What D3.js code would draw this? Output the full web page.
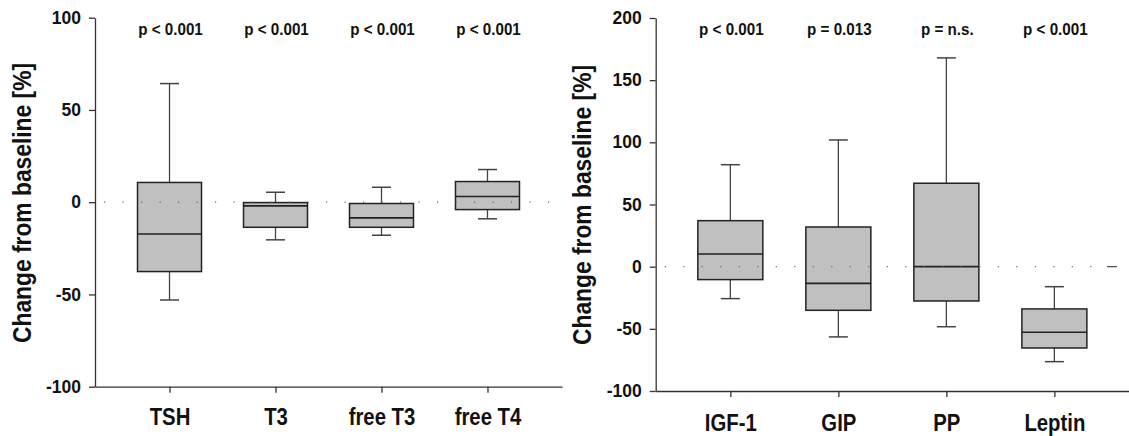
<!DOCTYPE html>
<html>
<head>
<meta charset="utf-8">
<script src="https://cdn.jsdelivr.net/npm/d3@7"></script>
<style>
  body { margin: 0; background: #fff; }
  svg { display: block; }
  text { font-family: "Liberation Sans", Arial, sans-serif; font-weight: bold; fill: #111; }
  .axis path, .axis line { stroke: #333; stroke-width: 1.3; }
</style>
</head>
<body>
<script>
// left panel: thyroid hormones
var leftCats = ['TSH', 'T3', 'free T3', 'free T4']
var leftP = ['p < 0.001', 'p < 0.001', 'p < 0.001', 'p < 0.001']
var leftLow = [-53, -20.4, -17.9, -9]
var leftQ1 = [-37.6, -13.6, -13.6, -4]
var leftMed = [-17.2, -2, -8.5, 3.1]
var leftQ3 = [10.7, -0.2, -0.7, 11.2]
var leftHigh = [64.3, 5.4, 8.1, 17.7]
var leftTicks = [-100, -50, 0, 50, 100]

// right panel: other hormones
var rightCats = ['IGF-1', 'GIP', 'PP', 'Leptin']
var rightP = ['p < 0.001', 'p = 0.013', 'p = n.s.', 'p < 0.001']
var rightLow = [-25.7, -56.5, -48.3, -76.4]
var rightQ1 = [-10.4, -35.1, -27.6, -65.4]
var rightMed = [10.2, -13.4, 0, -52.8]
var rightQ3 = [37, 31.9, 67.1, -34]
var rightHigh = [82, 101.9, 167.9, -16.1]
var rightTicks = [-100, -50, 0, 50, 100, 150, 200]

var svg = d3.select('body').append('svg').attr('width', 1129).attr('height', 436)

function panel(opt) {
  var y = d3.scaleLinear().domain(opt.yDomain).range([opt.bottom, opt.top])
  var x = d3.scalePoint().domain(opt.cats).range([opt.left, opt.right]).padding(opt.pad)

  var g = svg.append('g')

  // axes
  g.append('g')
    .attr('class', 'axis y')
    .attr('transform', `translate(${opt.left},0)`)
    .call(d3.axisLeft(y).tickValues(opt.ticks).tickFormat(d => String(d)).tickSize(6).tickSizeOuter(0).tickPadding(8))
    .call(a => a.selectAll('text').style('font-size', '17.5px').attr('fill', '#111'))

  g.append('g')
    .attr('class', 'axis x')
    .attr('transform', `translate(0,${opt.bottom})`)
    .call(d3.axisBottom(x).tickSize(6).tickSizeOuter(0))
    .call(a => a.selectAll('text')
      .style('font-size', '24.5px')
      .attr('y', opt.labelY).attr('dy', 0)
      .attr('transform', 'scale(0.83,1)')
      .attr('fill', '#111'))

  g.append('text')
    .attr('transform', `translate(${opt.titleX},${opt.titleY}) rotate(-90)`)
    .attr('text-anchor', 'middle')
    .style('font-size', '25px')
    .attr('textLength', 280)
    .attr('lengthAdjust', 'spacingAndGlyphs')
    .attr('fill', '#222')
    .text('Change from baseline [%]')

  var boxW = opt.boxW, capW = 19
  var boxes = g.append('g').selectAll('g').data(opt.cats).enter().append('g')

  // whiskers
  boxes.append('line')
    .attr('x1', d => x(d)).attr('x2', d => x(d))
    .attr('y1', (d, i) => y(opt.high[i])).attr('y2', (d, i) => y(opt.low[i]))
    .attr('stroke', '#444').attr('stroke-width', 1.3)
  boxes.append('line')
    .attr('x1', d => x(d) - capW / 2).attr('x2', d => x(d) + capW / 2)
    .attr('y1', (d, i) => y(opt.high[i])).attr('y2', (d, i) => y(opt.high[i]))
    .attr('stroke', '#444').attr('stroke-width', 1.5)
  boxes.append('line')
    .attr('x1', d => x(d) - capW / 2).attr('x2', d => x(d) + capW / 2)
    .attr('y1', (d, i) => y(opt.low[i])).attr('y2', (d, i) => y(opt.low[i]))
    .attr('stroke', '#444').attr('stroke-width', 1.5)

  // boxes
  boxes.append('rect')
    .attr('x', d => x(d) - boxW / 2)
    .attr('width', boxW)
    .attr('y', (d, i) => y(opt.q3[i]))
    .attr('height', (d, i) => y(opt.q1[i]) - y(opt.q3[i]))
    .attr('fill', '#c0c0c0').attr('stroke', '#222').attr('stroke-width', 1.5)
  boxes.append('line')
    .attr('x1', d => x(d) - boxW / 2).attr('x2', d => x(d) + boxW / 2)
    .attr('y1', (d, i) => y(opt.med[i])).attr('y2', (d, i) => y(opt.med[i]))
    .attr('stroke', '#222').attr('stroke-width', 1.6)

  // dotted zero line on top of boxes
  g.append('line')
    .attr('x1', opt.left + 9).attr('x2', opt.dotEnd)
    .attr('y1', y(0)).attr('y2', y(0))
    .attr('stroke', '#666').attr('stroke-width', 1.2)
    .attr('stroke-dasharray', '1.2,17.3')

  // p values
  g.append('g').selectAll('text').data(opt.cats).enter().append('text')
    .attr('transform', d => `translate(${x(d) + 1},35) scale(0.92,1)`)
    .attr('text-anchor', 'middle')
    .style('font-size', '16.5px')
    .text((d, i) => opt.p[i])

  return {x: x, y: y, g: g}
}

panel({
  cats: leftCats, p: leftP, low: leftLow, q1: leftQ1, med: leftMed, q3: leftQ3, high: leftHigh,
  ticks: leftTicks, yDomain: [-100, 100],
  left: 95, right: 562, top: 17.7, bottom: 386.7, pad: 0.703, boxW: 64,
  titleX: 31, titleY: 203, labelY: 38.5, dotEnd: 552
})

var r = panel({
  cats: rightCats, p: rightP, low: rightLow, q1: rightQ1, med: rightMed, q3: rightQ3, high: rightHigh,
  ticks: rightTicks, yDomain: [-100, 200],
  left: 655.7, right: 1129, top: 18, bottom: 391, pad: 0.691, boxW: 65,
  titleX: 591, titleY: 205, labelY: 40, dotEnd: 1106
})

// short dash at the end of the right zero line
r.g.append('line')
  .attr('x1', 1107).attr('x2', 1117)
  .attr('y1', r.y(0)).attr('y2', r.y(0))
  .attr('stroke', '#555').attr('stroke-width', 1.3)
</script>
</body>
</html>
